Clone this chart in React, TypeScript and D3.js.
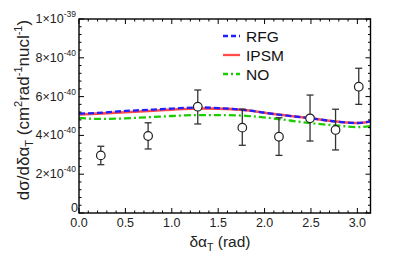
import React, { useEffect, useRef } from "react";
import * as d3 from "d3";

// values in units of 1e-40 cm^2 rad^-1 nucl^-1
const curveX = [0, 0.2, 0.5, 0.8, 1.0, 1.3, 1.5, 1.8, 2.1, 2.5, 2.8, 3.0, 3.1416];
const rfg = [5.12, 5.16, 5.26, 5.33, 5.38, 5.44, 5.41, 5.3, 5.1, 4.88, 4.7, 4.64, 4.72];
const ipsm = [5.08, 5.12, 5.19, 5.27, 5.33, 5.39, 5.38, 5.3, 5.1, 4.88, 4.7, 4.64, 4.72];
const noModel = [4.9, 4.85, 4.88, 4.95, 5.0, 5.05, 5.05, 5.01, 4.87, 4.63, 4.5, 4.43, 4.48];

const dataX = [0.235, 0.745, 1.28, 1.76, 2.155, 2.49, 2.765, 3.015];
const dataY = [2.97, 3.97, 5.48, 4.4, 3.93, 4.88, 4.28, 6.51];
const dataLo = [2.49, 3.3, 4.59, 3.49, 2.97, 3.71, 3.25, 5.6];
const dataHi = [3.44, 4.65, 6.34, 5.35, 4.91, 6.08, 5.35, 7.46];

const xTicks = [0, 0.5, 1.0, 1.5, 2.0, 2.5, 3.0];
const yTicks = [0, 2, 4, 6, 8, 10];
const yTickMant = ["0", "2×10", "4×10", "6×10", "8×10", "1×10"];
const yTickExp = ["", "-40", "-40", "-40", "-40", "-39"];

const legendNames = ["RFG", "IPSM", "NO"];
const legendColors = ["#1f1fff", "#ff4a4a", "#1ccc00"];
const legendDash = ["6,3", null, "7,3,2,3"];

export default function App() {
  const ref = useRef<SVGSVGElement>(null);

  useEffect(() => {
    const svg = d3.select(ref.current);
    svg.selectAll("*").remove();
    const font = "'Liberation Sans', Arial, sans-serif";

    const left = 79, right = 370.5, top = 19, bottom = 213;
    const x = d3.scaleLinear().domain([0, Math.PI]).range([left, right]);
    const y = d3.scaleLinear().domain([0, 10]).range([bottom, top]);

    const g = svg.append("g");

    // curves
    const line = d3
      .line<number>()
      .x((d, i) => x(curveX[i]))
      .y((d) => y(d))
      .curve(d3.curveMonotoneX);

    const series = [rfg, ipsm, noModel];
    // red first, then green, blue dashed on top
    [1, 2, 0].forEach((k) => {
      const p = g
        .append("path")
        .attr("d", line(series[k]))
        .attr("fill", "none")
        .attr("stroke", legendColors[k])
        .attr("stroke-width", k === 1 ? 2.6 : 2.3);
      if (legendDash[k]) p.attr("stroke-dasharray", legendDash[k]);
    });

    // error bars
    const eb = g.append("g").attr("stroke", "#333").attr("stroke-width", 1.3);
    dataX.forEach((dx, i) => {
      const cx = x(dx);
      eb.append("line").attr("x1", cx).attr("x2", cx).attr("y1", y(dataLo[i])).attr("y2", y(dataHi[i]));
      eb.append("line").attr("x1", cx - 3.5).attr("x2", cx + 3.5).attr("y1", y(dataLo[i])).attr("y2", y(dataLo[i]));
      eb.append("line").attr("x1", cx - 3.5).attr("x2", cx + 3.5).attr("y1", y(dataHi[i])).attr("y2", y(dataHi[i]));
    });
    g.selectAll("circle.pt")
      .data(dataY)
      .enter()
      .append("circle")
      .attr("cx", (d, i) => x(dataX[i]))
      .attr("cy", (d) => y(d))
      .attr("r", 4.3)
      .attr("fill", "white")
      .attr("stroke", "#222")
      .attr("stroke-width", 1.2);

    // frame
    g.append("rect")
      .attr("x", left)
      .attr("y", top)
      .attr("width", right - left)
      .attr("height", bottom - top)
      .attr("fill", "none")
      .attr("stroke", "black")
      .attr("stroke-width", 1.4);

    // ticks
    const tk = g.append("g").attr("stroke", "black").attr("stroke-width", 1);
    d3.range(0, 32).forEach((i) => {
      const v = i / 10;
      const len = i % 5 === 0 ? 5 : 2.5;
      const px = x(v);
      tk.append("line").attr("x1", px).attr("x2", px).attr("y1", bottom).attr("y2", bottom - len);
      tk.append("line").attr("x1", px).attr("x2", px).attr("y1", top).attr("y2", top + len);
    });
    d3.range(0, 26).forEach((i) => {
      const v = i * 0.4;
      const len = i % 5 === 0 ? 5 : 2.5;
      const py = y(v);
      tk.append("line").attr("x1", left).attr("x2", left + len).attr("y1", py).attr("y2", py);
      tk.append("line").attr("x1", right).attr("x2", right - len).attr("y1", py).attr("y2", py);
    });

    // x tick labels
    g.selectAll("text.xt")
      .data(xTicks)
      .enter()
      .append("text")
      .attr("x", (d) => x(d))
      .attr("y", 226.5)
      .attr("text-anchor", "middle")
      .attr("font-family", font)
      .attr("font-size", 12.5)
      .attr("fill", "#222")
      .text((d) => d.toFixed(1));

    // y tick labels
    yTicks.forEach((v, i) => {
      const t = g
        .append("text")
        .attr("x", i === 0 ? 78 : 76)
        .attr("y", y(v) + (i === 0 ? -1.5 : 4))
        .attr("text-anchor", "end")
        .attr("font-family", font)
        .attr("font-size", 12.5)
        .attr("fill", "#222");
      t.append("tspan").text(yTickMant[i]);
      if (yTickExp[i]) {
        t.append("tspan").attr("font-size", 8.5).attr("dy", -6).text(yTickExp[i]);
      }
    });

    // axis titles
    const xt = g
      .append("text")
      .attr("x", 220)
      .attr("y", 247)
      .attr("text-anchor", "middle")
      .attr("font-family", font)
      .attr("font-size", 15.5)
      .attr("fill", "#222");
    xt.append("tspan").text("δα");
    xt.append("tspan").attr("font-size", 10.5).attr("dy", 4).text("T");
    xt.append("tspan").attr("dy", -4).text(" (rad)");

    const yt = g
      .append("text")
      .attr("transform", "translate(28.5,110) rotate(-90)")
      .attr("text-anchor", "middle")
      .attr("font-family", font)
      .attr("font-size", 17)
      .attr("fill", "#222");
    yt.append("tspan").text("dσ/dδα");
    yt.append("tspan").attr("font-size", 11).attr("dy", 4).text("T");
    yt.append("tspan").attr("dy", -4).text(" (cm");
    yt.append("tspan").attr("font-size", 11).attr("dy", -7).text("2");
    yt.append("tspan").attr("dy", 7).text("rad");
    yt.append("tspan").attr("font-size", 11).attr("dy", -7).text("-1");
    yt.append("tspan").attr("dy", 7).text("nucl");
    yt.append("tspan").attr("font-size", 11).attr("dy", -7).text("-1");
    yt.append("tspan").attr("dy", 7).text(")");

    // legend
    const legY = [36, 55, 74];
    legendNames.forEach((name, i) => {
      const l = g
        .append("line")
        .attr("x1", 223)
        .attr("x2", 240)
        .attr("y1", legY[i])
        .attr("y2", legY[i])
        .attr("stroke", legendColors[i])
        .attr("stroke-width", 2.3);
      if (legendDash[i]) l.attr("stroke-dasharray", i === 0 ? "5,3" : "5,3,2,3");
      g.append("text")
        .attr("x", 246)
        .attr("y", legY[i] + 5.5)
        .attr("font-family", font)
        .attr("font-size", 15.5)
        .attr("fill", "#111")
        .text(name);
    });
  }, []);

  return (
    <svg
      ref={ref}
      width={407}
      height={258}
      style={{ position: "absolute", left: 0, top: 0, background: "white" }}
    />
  );
}
